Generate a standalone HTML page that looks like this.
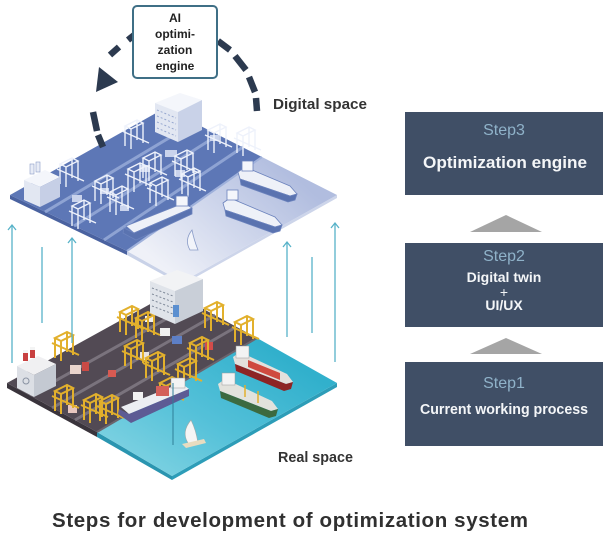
<!DOCTYPE html>
<html><head><meta charset="utf-8">
<style>
html,body{margin:0;padding:0;background:#fff;}
body{width:607px;height:543px;overflow:hidden;position:relative;}
svg{position:absolute;left:0;top:0;}
text{font-family:"Liberation Sans",Arial,sans-serif;}
</style></head><body>
<svg width="607" height="543" viewBox="0 0 607 543" xmlns="http://www.w3.org/2000/svg">
<defs>
  <linearGradient id="dwg" gradientUnits="userSpaceOnUse" x1="285" y1="168" x2="182" y2="284">
    <stop offset="0" stop-color="#b1bddf"/>
    <stop offset="0.55" stop-color="#d2d9ed"/>
    <stop offset="1" stop-color="#eff1f8"/>
  </linearGradient>
  <linearGradient id="rwg" gradientUnits="userSpaceOnUse" x1="257" y1="340" x2="172" y2="476">
    <stop offset="0" stop-color="#31b0cc"/>
    <stop offset="0.6" stop-color="#55c1d9"/>
    <stop offset="1" stop-color="#77cfe0"/>
  </linearGradient>
  <g id="ycr" fill="none" stroke="#e2b02c" stroke-width="2">
    <path d="M0 6 V26 M6 9 V29 M12 0 V20 M18 3 V23 M0 6 L12 0 L18 3 L6 9 Z M-3 11 L24 23"/>
  </g>
  <g id="wcr" fill="none" stroke="#eef2fb" stroke-width="1.4">
    <path d="M0 6 V26 M6 9 V29 M12 0 V20 M18 3 V23 M0 6 L12 0 L18 3 L6 9 Z M-3 11 L24 23"/>
  </g>
</defs>

<!-- ===== DIGITAL PLANE ===== -->
<polygon points="10,195 127,251 127,255 10,199" fill="#4a62a0"/>
<polygon points="127,251 182,282 182,285 127,255" fill="#c9d2e8"/>
<polygon points="182,282 337,195 337,198 182,285" fill="#cdd5ea"/>
<polygon points="127,251 262,157 337,195 182,282" fill="url(#dwg)"/>
<polygon points="10,195 165,108 262,157 127,251" fill="#5d77b6"/>
<g stroke="#8ea3d3" stroke-width="3">
  <line x1="45" y1="212" x2="194" y2="123"/>
  <line x1="74" y1="226" x2="218" y2="135"/>
  <line x1="104" y1="240" x2="243" y2="147"/>
</g>
<line x1="127" y1="251" x2="262" y2="157" stroke="#9fb1db" stroke-width="2"/>
<g fill="#c9d3ec">
  <rect x="72" y="195" width="10" height="7"/><rect x="100" y="188" width="9" height="6"/>
  <rect x="140" y="165" width="10" height="7"/><rect x="165" y="150" width="12" height="7"/>
  <rect x="210" y="135" width="9" height="6"/><rect x="120" y="205" width="9" height="6"/>
  <rect x="175" y="170" width="10" height="7"/>
</g>
<use href="#wcr" x="60" y="158"/><use href="#wcr" x="72" y="200"/><use href="#wcr" x="110" y="186"/>
<use href="#wcr" x="125" y="120"/><use href="#wcr" x="143" y="152"/><use href="#wcr" x="128" y="163"/>
<use href="#wcr" x="175" y="150"/><use href="#wcr" x="208" y="124"/><use href="#wcr" x="237" y="127"/>
<use href="#wcr" x="182" y="168"/><use href="#wcr" x="150" y="177"/><use href="#wcr" x="95" y="175"/>
<polygon points="155,103 180,93 202,100 178,112" fill="#f4f6fb"/>
<polygon points="155,103 178,112 178,142 155,132" fill="#e2e7f2"/>
<polygon points="178,112 202,100 202,130 178,142" fill="#c9d2e8"/>
<g stroke="#97a8d0" stroke-width="1" stroke-dasharray="2 2">
  <line x1="157" y1="110" x2="176" y2="118"/><line x1="157" y1="116" x2="176" y2="124"/>
  <line x1="157" y1="122" x2="176" y2="130"/><line x1="157" y1="128" x2="176" y2="136"/>
</g>
<polygon points="24,180 45,170 60,177 40,187" fill="#f4f6fb"/>
<polygon points="24,180 40,187 40,207 24,200" fill="#e2e7f2"/>
<polygon points="40,187 60,177 60,197 40,207" fill="#c6cfe6"/>
<rect x="30" y="164" width="4" height="10" fill="#e8ecf6" stroke="#8a9cc8" stroke-width="0.6"/>
<rect x="36" y="162" width="4" height="10" fill="#e8ecf6" stroke="#8a9cc8" stroke-width="0.6"/>
<g stroke="#6c83bd" stroke-width="0.8">
  <polygon points="238,172 245,167 290,186 297,194 290,196 240,179" fill="#eef1f8"/>
  <polygon points="240,179 290,196 297,194 295,200 288,202 241,185" fill="#5a73b0"/>
  <rect x="242" y="161" width="11" height="10" fill="#f4f6fb"/>
  <polygon points="223,203 230,198 275,217 282,225 275,227 225,210" fill="#eef1f8"/>
  <polygon points="225,210 275,227 282,225 280,231 273,233 226,216" fill="#5a73b0"/>
  <rect x="227" y="190" width="11" height="10" fill="#f4f6fb"/>
  <polygon points="126,226 184,203 192,208 134,233" fill="#eef1f8"/>
  <polygon points="124,228 134,233 192,208 192,214 136,240 123,233" fill="#5a73b0"/>
  <rect x="176" y="196" width="12" height="10" fill="#f4f6fb"/>
</g>
<path d="M192 230 Q184 240 190 250 L198 250 Q194 240 192 230 Z" fill="#f2f4fa" stroke="#8a9cc8" stroke-width="0.8"/>

<!-- ===== REAL PLANE ===== -->
<polygon points="7,383 97,432 97,437 7,388" fill="#3a343c"/>
<polygon points="97,432 172,476 172,480 97,437" fill="#2a95b0"/>
<polygon points="172,476 337,383 337,387 172,480" fill="#2d9db8"/>
<polygon points="97,432 257,338 337,383 172,476" fill="url(#rwg)"/>
<polygon points="7,383 172,292 257,338 97,432" fill="#524a54"/>
<g stroke="#7a737d" stroke-width="3">
  <line x1="30" y1="395" x2="193" y2="304"/>
  <line x1="52" y1="408" x2="215" y2="315"/>
  <line x1="75" y1="420" x2="236" y2="327"/>
</g>
<line x1="97" y1="432" x2="257" y2="338" stroke="#6b646d" stroke-width="2"/>
<g>
  <rect x="70" y="365" width="11" height="9" fill="#e9d4cc"/><rect x="82" y="362" width="7" height="9" fill="#c94a45"/>
  <rect x="160" y="328" width="10" height="8" fill="#f1f1f1"/><rect x="172" y="336" width="10" height="8" fill="#5d7fc6"/>
  <rect x="140" y="352" width="9" height="8" fill="#e9e3e0"/><rect x="108" y="370" width="8" height="7" fill="#d85a52"/>
  <rect x="133" y="392" width="10" height="8" fill="#f2f2f2"/><rect x="205" y="342" width="8" height="8" fill="#d24c4a"/>
  <rect x="145" y="316" width="9" height="6" fill="#efefef"/><rect x="68" y="405" width="9" height="8" fill="#e8c7bf"/>
</g>
<use href="#ycr" x="55" y="332"/><use href="#ycr" x="120" y="306"/><use href="#ycr" x="136" y="312"/>
<use href="#ycr" x="205" y="302"/><use href="#ycr" x="235" y="316"/><use href="#ycr" x="125" y="340"/>
<use href="#ycr" x="146" y="352"/><use href="#ycr" x="190" y="337"/><use href="#ycr" x="55" y="385"/>
<use href="#ycr" x="84" y="394"/><use href="#ycr" x="160" y="377"/><use href="#ycr" x="178" y="358"/>
<use href="#ycr" x="100" y="395"/>
<polygon points="150,281 177,270 203,279 175,291" fill="#f2f3f5"/>
<polygon points="150,281 175,291 175,324 150,313" fill="#e0e4ea"/>
<polygon points="175,291 203,279 203,311 175,324" fill="#c9cfd8"/>
<g stroke="#7e8898" stroke-width="1" stroke-dasharray="2 2">
  <line x1="152" y1="288" x2="173" y2="296"/><line x1="152" y1="294" x2="173" y2="302"/>
  <line x1="152" y1="300" x2="173" y2="308"/><line x1="152" y1="306" x2="173" y2="314"/>
</g>
<rect x="173" y="305" width="6" height="12" fill="#5b8fd0"/>
<polygon points="17,366 38,356 56,364 34,375" fill="#f0f0f2"/>
<polygon points="17,366 34,375 34,397 17,388" fill="#dcdfe5"/>
<polygon points="34,375 56,364 56,386 34,397" fill="#c4c9d2"/>
<circle cx="26" cy="381" r="3" fill="none" stroke="#8a93a3" stroke-width="1"/>
<rect x="23" y="350" width="5" height="11" fill="#c84040"/><rect x="23" y="350" width="5" height="3" fill="#f4f4f4"/>
<rect x="30" y="347" width="5" height="11" fill="#c84040"/><rect x="30" y="347" width="5" height="3" fill="#f4f4f4"/>
<polygon points="233,357 240,352 287,374 293,382 286,384 235,364" fill="#e4e0dc"/>
<polygon points="248,360 280,373 280,380 248,367" fill="#cf4a3f"/>
<polygon points="235,364 286,384 293,382 291,389 284,391 236,371" fill="#8d2424"/>
<rect x="236" y="346" width="13" height="12" fill="#f3f3f3" stroke="#999" stroke-width="0.5"/>
<polygon points="218,384 225,379 272,401 278,409 271,411 220,391" fill="#e2e2dc"/>
<polygon points="220,391 271,411 278,409 276,416 269,418 221,398" fill="#3c6a40"/>
<rect x="222" y="373" width="13" height="12" fill="#f3f3f3" stroke="#999" stroke-width="0.5"/>
<g stroke="#e2b02c" stroke-width="1.5"><line x1="245" y1="385" x2="245" y2="397"/><line x1="258" y1="391" x2="258" y2="403"/></g>
<polygon points="121,407 181,383 189,389 129,414" fill="#eceef2"/>
<polygon points="119,409 129,414 189,389 189,396 131,423 118,414" fill="#5d5b94"/>
<rect x="156" y="386" width="13" height="10" fill="#d4605a"/>
<rect x="171" y="378" width="14" height="10" fill="#f3f3f3" stroke="#999" stroke-width="0.5"/>
<line x1="173" y1="383" x2="173" y2="445" stroke="#2f7f98" stroke-width="1"/>
<path d="M191 420 Q181 432 188 443 L198 443 Q196 430 191 420 Z" fill="#f5f5f5" stroke="#9aa" stroke-width="0.6"/>
<polygon points="182,444 204,439 206,443 186,448" fill="#e8dcc0"/>

<!-- vertical arrows -->
<g stroke="#57b2c8" stroke-width="1.3" fill="none">
  <line x1="12" y1="225" x2="12" y2="363"/><polyline points="8,230 12,225 16,230"/>
  <line x1="42" y1="247" x2="42" y2="323"/>
  <line x1="72" y1="238" x2="72" y2="343"/><polyline points="68,243 72,238 76,243"/>
  <line x1="287" y1="242" x2="287" y2="337"/><polyline points="283,247 287,242 291,247"/>
  <line x1="312" y1="257" x2="312" y2="333"/>
  <line x1="335" y1="223" x2="335" y2="362"/><polyline points="331,228 335,223 339,228"/>
</g>

<!-- dashed loop -->
<g stroke="#2c3a4f" stroke-width="6.5" stroke-linecap="butt">
  <line x1="138" y1="32" x2="128" y2="40"/>
  <line x1="119" y1="47" x2="110" y2="55"/>
  <line x1="93" y1="112" x2="97" y2="131"/>
  <line x1="98" y1="135" x2="103" y2="147"/>
  <line x1="218" y1="41" x2="230" y2="50"/>
  <line x1="235" y1="56" x2="246" y2="70"/>
  <line x1="249" y1="77" x2="255" y2="92"/>
  <line x1="256" y1="98" x2="257" y2="111"/>
</g>
<polygon points="99,67 118,82 96,92" fill="#2c3a4f"/>

<!-- AI box -->
<rect x="133" y="6" width="84" height="72" rx="4" ry="4" fill="#ffffff" stroke="#3f6f86" stroke-width="2"/>
<g font-size="12" font-weight="bold" fill="#222" text-anchor="middle">
  <text x="175" y="22">AI</text>
  <text x="175" y="38">optimi-</text>
  <text x="175" y="54">zation</text>
  <text x="175" y="70">engine</text>
</g>

<text x="273" y="109" font-size="15" font-weight="bold" fill="#333" textLength="94" lengthAdjust="spacingAndGlyphs">Digital space</text>
<text x="278" y="462" font-size="14.5" font-weight="bold" fill="#333" textLength="75" lengthAdjust="spacingAndGlyphs">Real space</text>

<!-- Steps -->
<rect x="405" y="112" width="198" height="83" fill="#404f66"/>
<rect x="405" y="243" width="198" height="84" fill="#404f66"/>
<rect x="405" y="362" width="198" height="84" fill="#404f66"/>
<polygon points="470,232 506,215 542,232" fill="#a5a5a5"/>
<polygon points="470,354 506,338 542,354" fill="#a5a5a5"/>
<g text-anchor="middle">
  <text x="504" y="135" font-size="16" fill="#8fb2c9">Step3</text>
  <text x="505" y="168" font-size="17" font-weight="bold" fill="#f4f6f8" textLength="164" lengthAdjust="spacingAndGlyphs">Optimization engine</text>
  <text x="504" y="261" font-size="16" fill="#8fb2c9">Step2</text>
  <text x="504" y="282" font-size="14" font-weight="bold" fill="#f4f6f8">Digital twin</text>
  <text x="504" y="297" font-size="14" fill="#f4f6f8">+</text>
  <text x="504" y="310" font-size="14" font-weight="bold" fill="#f4f6f8">UI/UX</text>
  <text x="504" y="388" font-size="16" fill="#8fb2c9">Step1</text>
  <text x="504" y="414" font-size="14.3" font-weight="bold" fill="#f4f6f8" textLength="168" lengthAdjust="spacingAndGlyphs">Current working process</text>
</g>

<!-- Title -->
<text x="52" y="527" font-size="20.5" font-weight="bold" fill="#303030" textLength="476" lengthAdjust="spacing">Steps for development of optimization system</text>
</svg>
</body></html>
